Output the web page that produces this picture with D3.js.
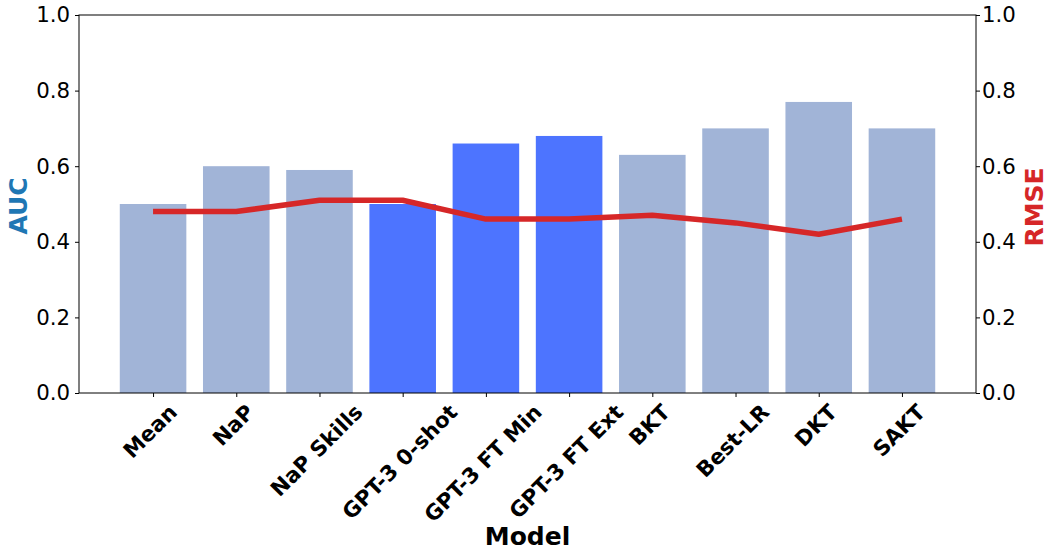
<!DOCTYPE html>
<html>
<head>
<meta charset="utf-8">
<script src="https://cdn.jsdelivr.net/npm/d3@7"></script>
<style>
	body { margin: 0; background: #fff; }
	text { font-family: "DejaVu Sans", sans-serif; }
</style>
</head>
<body>
<script>
// values
var models = ['Mean', 'NaP', 'NaP Skills', 'GPT-3 0-shot', 'GPT-3 FT Min', 'GPT-3 FT Ext', 'BKT', 'Best-LR', 'DKT', 'SAKT'];
var auc = [0.50, 0.60, 0.59, 0.50, 0.66, 0.68, 0.63, 0.70, 0.77, 0.70];
var rmse = [0.48, 0.48, 0.51, 0.51, 0.46, 0.46, 0.47, 0.45, 0.42, 0.46];
var gptModels = ['GPT-3 0-shot', 'GPT-3 FT Min', 'GPT-3 FT Ext'];
var yTicks = [0.0, 0.2, 0.4, 0.6, 0.8, 1.0];

var width = 1053;
var height = 558;
var plot = { left: 79, right: 976, top: 15, bottom: 393 };
var tickFont = 21.3;
var barWidth = 0.8;

var svg = d3.select('body').append('svg')
	.attr('width', width)
	.attr('height', height);

// matplotlib style limits: bars span -0.4..9.4 plus 5% margin
var span = (models.length - 1) + barWidth;
var pad = span * 0.05;
var x = d3.scaleLinear()
	.domain([-barWidth / 2 - pad, models.length - 1 + barWidth / 2 + pad])
	.range([plot.left, plot.right]);

var yLeft = d3.scaleLinear().domain([0, 1]).range([plot.bottom, plot.top]);
var yRight = d3.scaleLinear().domain([0, 1]).range([plot.bottom, plot.top]);

// bars
svg.append('g').selectAll('rect')
	.data(models)
	.enter().append('rect')
	.attr('x', (d, i) => x(i - barWidth / 2))
	.attr('width', (d, i) => x(i + barWidth / 2) - x(i - barWidth / 2))
	.attr('y', (d, i) => yLeft(auc[i]))
	.attr('height', (d, i) => yLeft(0) - yLeft(auc[i]))
	.attr('fill', d => gptModels.indexOf(d) >= 0 ? '#4d74ff' : '#a1b4d7');

// RMSE line
var line = d3.line()
	.x((d, i) => x(i))
	.y(d => yRight(d));

svg.append('path')
	.datum(rmse)
	.attr('d', line)
	.attr('fill', 'none')
	.attr('stroke', '#d62728')
	.attr('stroke-width', 5.5)
	.attr('stroke-linejoin', 'round');

// left axis
var axisL = svg.append('g')
	.attr('transform', `translate(${plot.left},0)`)
	.call(d3.axisLeft(yLeft).tickValues(yTicks).tickFormat(d3.format('.1f')).tickSize(4).tickPadding(5));

// right axis
var axisR = svg.append('g')
	.attr('transform', `translate(${plot.right},0)`)
	.call(d3.axisRight(yRight).tickValues(yTicks).tickFormat(d3.format('.1f')).tickSize(4).tickPadding(2));

[axisL, axisR].forEach(g => {
	g.select('.domain').remove();
	g.selectAll('line').attr('stroke', '#000').attr('stroke-width', 1);
	g.selectAll('text')
		.attr('font-size', tickFont)
		.attr('font-family', '"DejaVu Sans", sans-serif')
		.attr('fill', '#000');
});

// bottom axis ticks
var axisB = svg.append('g')
	.attr('transform', `translate(0,${plot.bottom})`)
	.call(d3.axisBottom(x).tickValues(d3.range(models.length)).tickFormat('').tickSize(4));
axisB.select('.domain').remove();
axisB.selectAll('line').attr('stroke', '#000');

// rotated tick labels, bbox centered on tick like matplotlib rotation=45
var labels = svg.append('g').selectAll('text')
	.data(models)
	.enter().append('text')
	.attr('font-size', tickFont)
	.attr('font-weight', 'bold')
	.attr('text-anchor', 'middle')
	.attr('dominant-baseline', 'central')
	.text(d => d);

labels.each(function(d, i) {
	var w = this.getComputedTextLength();
	var h = tickFont * 0.95;
	var half = (w + h) * Math.SQRT1_2 / 2;
	var cx = x(i) - 3;
	var cy = plot.bottom + 8 + half;
	d3.select(this).attr('transform', `translate(${cx},${cy}) rotate(-45)`);
});

// frame
svg.append('rect')
	.attr('x', plot.left)
	.attr('y', plot.top)
	.attr('width', plot.right - plot.left)
	.attr('height', plot.bottom - plot.top)
	.attr('fill', 'none')
	.attr('stroke', '#000')
	.attr('stroke-width', 1);

// axis titles
svg.append('text')
	.attr('x', (plot.left + plot.right) / 2)
	.attr('y', 545)
	.attr('text-anchor', 'middle')
	.attr('font-size', 25)
	.attr('font-weight', 'bold')
	.text('Model');

svg.append('text')
	.attr('transform', `translate(27,${(plot.top + plot.bottom) / 2 + 2}) rotate(-90)`)
	.attr('text-anchor', 'middle')
	.attr('font-size', 25)
	.attr('font-weight', 'bold')
	.attr('fill', '#1f77b4')
	.text('AUC');

svg.append('text')
	.attr('transform', `translate(1043,${(plot.top + plot.bottom) / 2 + 3}) rotate(-90)`)
	.attr('text-anchor', 'middle')
	.attr('font-size', 25)
	.attr('font-weight', 'bold')
	.attr('fill', '#d62728')
	.text('RMSE');
</script>
</body>
</html>
